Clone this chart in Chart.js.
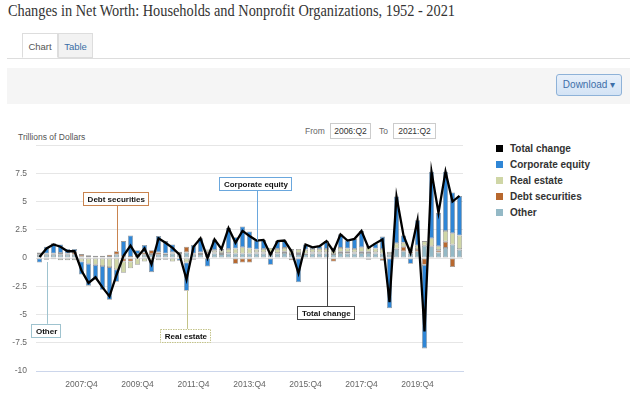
<!DOCTYPE html>
<html><head><meta charset="utf-8">
<script src="https://cdn.jsdelivr.net/npm/chart.js@4.4.1/dist/chart.umd.min.js"></script>
<style>
html,body{margin:0;padding:0;background:#fff;width:630px;height:398px;overflow:hidden;font-family:"Liberation Sans",Arial,sans-serif;}
#title{position:absolute;left:8px;top:2px;font-family:"Liberation Serif","Times New Roman","DejaVu Serif",serif;font-size:16px;color:#333;white-space:nowrap;transform-origin:0 0;}
.tab{position:absolute;top:33px;height:25px;box-sizing:border-box;font-size:9.5px;text-align:center;line-height:25px;}
#tab1{left:22px;width:36px;border:1px solid #ddd;border-bottom:1px solid #fff;background:#fff;color:#555;z-index:2;}
#tab2{left:58px;width:35px;border:1px solid #ddd;background:#f2f2f2;color:#3a6ea5;}
#rule{position:absolute;left:7px;right:0;top:58px;height:1px;background:#ddd;}
#panel{position:absolute;left:7px;right:0;top:68px;height:36px;background:#f5f5f5;}
#dl{position:absolute;left:556px;top:74px;width:66px;height:22px;box-sizing:border-box;border:1px solid #8eb2d8;border-radius:3px;background:linear-gradient(#e8f0fa,#d3e3f5);color:#3d6fa8;font-size:10px;line-height:20px;text-align:center;}
#ylab{position:absolute;left:18px;top:132px;font-size:8.5px;color:#555;}
.rl{position:absolute;top:126px;font-size:8.5px;color:#666;}
.box{position:absolute;top:123px;height:16px;box-sizing:border-box;border:1px solid #ccc;font-size:8.5px;color:#333;text-align:center;line-height:14px;}
#wrap{position:absolute;left:0;top:131px;width:470px;height:268px;}
#legend{position:absolute;left:496px;top:143px;}
.li{height:16px;font-size:10px;font-weight:bold;color:#333;white-space:nowrap;line-height:12px;}
.sw{display:inline-block;width:7px;height:7px;margin-right:7px;vertical-align:0px;}
</style></head><body>
<div id="title">Changes in Net Worth: Households and Nonprofit Organizations, 1952 - 2021</div>
<div id="tab1" class="tab">Chart</div><div id="tab2" class="tab">Table</div>
<div id="rule"></div>
<div id="panel"></div>
<div id="dl">Download &#9662;</div>
<div id="ylab">Trillions of Dollars</div>
<div class="rl" style="left:305px">From</div>
<div class="box" style="left:330px;width:41px">2006:Q2</div>
<div class="rl" style="left:379px">To</div>
<div class="box" style="left:393px;width:43px">2021:Q2</div>
<div id="wrap"><canvas id="c" width="470" height="268"></canvas></div>
<div id="legend"></div>
<script>
const categories = ["2006:Q2","2006:Q3","2006:Q4","2007:Q1","2007:Q2","2007:Q3","2007:Q4","2008:Q1","2008:Q2","2008:Q3","2008:Q4","2009:Q1","2009:Q2","2009:Q3","2009:Q4","2010:Q1","2010:Q2","2010:Q3","2010:Q4","2011:Q1","2011:Q2","2011:Q3","2011:Q4","2012:Q1","2012:Q2","2012:Q3","2012:Q4","2013:Q1","2013:Q2","2013:Q3","2013:Q4","2014:Q1","2014:Q2","2014:Q3","2014:Q4","2015:Q1","2015:Q2","2015:Q3","2015:Q4","2016:Q1","2016:Q2","2016:Q3","2016:Q4","2017:Q1","2017:Q2","2017:Q3","2017:Q4","2018:Q1","2018:Q2","2018:Q3","2018:Q4","2019:Q1","2019:Q2","2019:Q3","2019:Q4","2020:Q1","2020:Q2","2020:Q3","2020:Q4","2021:Q1","2021:Q2"];
const tickLabels = ["2007:Q4","2009:Q4","2011:Q4","2013:Q4","2015:Q4","2017:Q4","2019:Q4"];
const other = [0.3,0.3,0.3,0.3,0.3,0.3,0.15,0.1,0.1,0.1,0.1,0.3,0.15,0.1,0.2,0.3,0.35,0.3,0.35,0.4,0.3,0.5,0.3,0.35,0.35,0.4,0.35,0.4,0.4,0.4,0.4,0.4,0.4,0.35,0.4,0.45,0.35,0.35,0.35,0.4,0.4,0.4,0.35,0.45,0.4,0.4,0.45,0.45,0.4,0.4,0.3,0.8,0.6,0.4,0.6,1.1,1.05,0.5,0.9,1.2,0.75];
const debtSecurities = [0.05,0.1,0.1,0.15,0.1,0.25,0.2,0.15,0.1,0.1,0.2,0.3,-0.3,-0.3,0.15,0.2,0.35,0.2,0.05,0.1,0.15,0.5,0.1,0.1,0.2,0.1,0.1,0.05,-0.5,-0.4,-0.4,0.1,0.1,0.1,0.05,0.1,-0.2,0.1,0.05,0.1,0.1,0.1,-0.3,0.1,0.15,0.1,0.1,0.1,0.1,-0.25,0.05,0.05,0.4,0.2,0.2,-0.6,0.0,0.2,0.55,-0.8,0.05];
const realEstate = [0.15,-0.15,-0.1,-0.2,-0.2,-0.2,-0.3,-0.5,-0.6,-0.7,-0.8,-1.0,-1.0,-0.6,-0.6,-0.3,-0.25,-0.2,-0.15,-0.3,0.1,-0.4,-0.15,0.05,0.2,0.2,0.2,0.35,0.45,0.55,0.45,0.25,0.3,0.45,0.35,0.35,0.35,0.35,0.35,0.3,0.3,0.3,0.3,0.35,0.3,0.3,0.4,0.5,0.35,0.4,0.2,0.45,0.35,0.35,0.3,0.4,0.7,0.35,0.95,1.0,1.2];
const corporateEquity = [-0.4,0.6,0.9,0.75,0.4,0.25,-1.15,-1.95,-1.3,-2.1,-2.9,-1.1,1.35,1.9,0.35,0.65,-1.0,1.45,1.1,0.7,-0.25,-2.5,0.75,1.25,-0.75,0.95,0.15,1.85,1.0,1.85,1.5,0.8,0.8,-0.6,0.7,0.65,0.1,-2.15,0.45,0.15,0.25,0.7,0.25,1.2,0.7,0.9,1.45,-0.15,0.45,1.1,-4.45,4.15,0.65,-0.5,2.25,-7.4,5.9,2.95,5.25,3.6,3.5];
const totalChange = [0.1,0.85,1.2,1.0,0.6,0.6,-1.1,-2.2,-1.7,-2.6,-3.4,-1.5,0.2,1.1,0.1,0.85,-0.55,1.75,1.35,0.9,0.3,-1.9,1.0,1.75,0.0,1.65,0.8,2.65,1.35,2.4,1.95,1.55,1.6,0.3,1.5,1.55,0.6,-1.35,1.2,0.95,1.05,1.5,0.6,2.1,1.55,1.7,2.4,0.9,1.3,1.65,-3.9,5.45,2.0,0.45,3.35,-6.5,7.65,4.0,7.65,5.0,5.5];

const colors = {total:'#000000', equity:'#2f86d6', realEstate:'#cfd6a6', debt:'#b8682e', other:'#94b9c6'};

// annotation callouts: label, category index, anchor value, box centre (category position, value)
const callouts = [
  {text:'Debt securities', idx:11, anchor:0.6, bx:10.9, by:5.3, color:'#c9844f', dash:[]},
  {text:'Corporate equity', idx:31, anchor:1.55, bx:30.85, by:6.6, color:'#6aa7dd', dash:[]},
  {text:'Other', idx:1, anchor:-0.35, bx:0.95, by:-6.4, color:'#9fc3cf', dash:[]},
  {text:'Real estate', idx:21, anchor:-2.9, bx:20.85, by:-6.85, color:'#c4c48a', dash:[1.5,1]},
  {text:'Total change', idx:41, anchor:1.4, bx:40.9, by:-4.85, color:'#444444', dash:[]}
];

const calloutPlugin = {
  id:'callouts',
  afterDatasetsDraw(chart){
    const ctx = chart.ctx, xs = chart.scales.x, ys = chart.scales.y;
    ctx.save();
    ctx.font = 'bold 8px "Liberation Sans", Arial, sans-serif';
    callouts.forEach(c=>{
      const x = xs.getPixelForValue(c.idx);
      const ya = ys.getPixelForValue(c.anchor);
      const bx = xs.getPixelForValue(0) + (xs.getPixelForValue(1)-xs.getPixelForValue(0))*c.bx;
      const by = ys.getPixelForValue(c.by);
      const w = ctx.measureText(c.text).width + 8, h = 13;
      const top = by - h/2;
      ctx.strokeStyle = c.color; ctx.lineWidth = 1; ctx.setLineDash([]);
      ctx.beginPath();
      if (ya < top) { ctx.moveTo(Math.round(x)+0.5, ya); ctx.lineTo(Math.round(x)+0.5, top); }
      else { ctx.moveTo(Math.round(x)+0.5, top+h); ctx.lineTo(Math.round(x)+0.5, ya); }
      ctx.stroke();
      ctx.fillStyle = '#fff';
      ctx.fillRect(Math.round(bx - w/2)+0.5, Math.round(top)+0.5, Math.round(w), h);
      ctx.setLineDash(c.dash);
      ctx.strokeRect(Math.round(bx - w/2)+0.5, Math.round(top)+0.5, Math.round(w), h);
      ctx.setLineDash([]);
      ctx.fillStyle = '#111'; ctx.textAlign = 'center'; ctx.textBaseline = 'middle';
      ctx.fillText(c.text, bx+0.5, Math.round(top)+h/2+1);
    });
    ctx.restore();
  }
};

const barCommon = {type:'bar', stack:'s', order:1, borderColor:'rgba(70,70,70,0.55)', borderWidth:0.8, barPercentage:0.74, categoryPercentage:1.0, borderSkipped:false};

new Chart(document.getElementById('c'), {
  data:{
    labels: categories,
    datasets:[
      {type:'line', label:'Total change', data: totalChange, stack:'t', order:0, borderColor:colors.total, borderWidth:2.3, pointRadius:0, tension:0, fill:false, backgroundColor:colors.total},
      Object.assign({label:'Other', data: other, backgroundColor:colors.other}, barCommon),
      Object.assign({label:'Debt securities', data: debtSecurities, backgroundColor:colors.debt}, barCommon),
      Object.assign({label:'Real estate', data: realEstate, backgroundColor:colors.realEstate}, barCommon),
      Object.assign({label:'Corporate equity', data: corporateEquity, backgroundColor:colors.equity}, barCommon)
    ]
  },
  options:{
    responsive:false, animation:false,
    layout:{padding:{top:0,right:7,left:0,bottom:0}},
    plugins:{legend:{display:false}, tooltip:{enabled:false}},
    scales:{
      x:{stacked:true, offset:true,
        grid:{display:false, drawTicks:false},
        border:{display:true, color:'#ccd6eb', width:1},
        ticks:{autoSkip:false, maxRotation:0, minRotation:0, padding:9, color:'#666', font:{size:8.5, family:'"Liberation Sans", Arial'},
          callback:function(v){ const l = categories[v]; return tickLabels.includes(l) ? l : ''; }},
        afterFit:function(s){ s.height = 28; }
      },
      y:{stacked:true, min:-10, max:10,
        grid:{color:'#e6e6e6', drawTicks:false},
        border:{display:false},
        ticks:{stepSize:2.5, padding:9, color:'#666', font:{size:8.5, family:'"Liberation Sans", Arial'},
          callback:function(v){ return v===10 ? '' : String(v); }},
        afterFit:function(s){ s.width = 36; }
      }
    }
  },
  plugins:[calloutPlugin]
});

const legendItems = [['Total change',colors.total],['Corporate equity',colors.equity],['Real estate',colors.realEstate],['Debt securities',colors.debt],['Other',colors.other]];
document.getElementById('legend').innerHTML = legendItems.map(([t,c])=>'<div class="li"><span class="sw" style="background:'+c+'"></span>'+t+'</div>').join('');

const t = document.getElementById('title');
const tw = t.getBoundingClientRect().width;
if (tw > 0) t.style.transform = 'scaleX(' + (447 / tw) + ')';
</script>
</body></html>
